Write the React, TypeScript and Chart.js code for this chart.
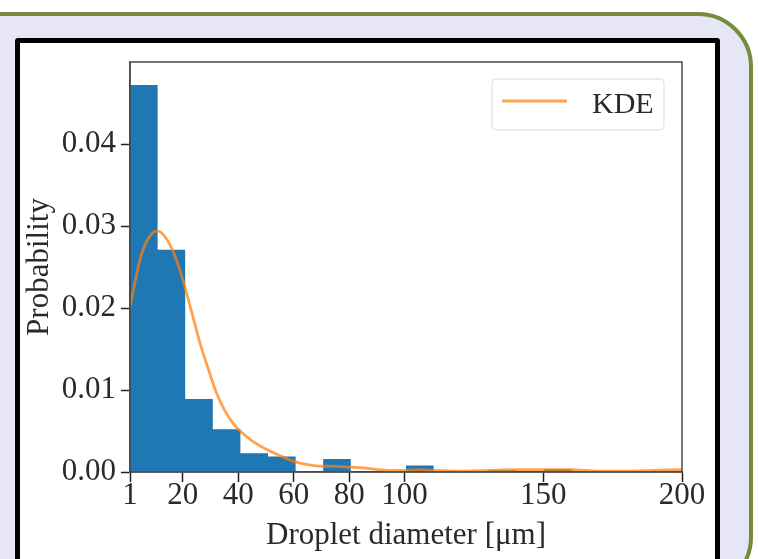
import React, { useEffect, useRef } from 'react';
import { Chart, registerables } from 'chart.js';

Chart.register(...registerables);

// Histogram bin edges (µm) and heights (probability density)
const binEdges = [1, 10.95, 20.9, 30.85, 40.8, 50.75, 60.7, 70.65, 80.6, 90.55, 100.5, 110.45, 120.4, 130.35, 140.3, 150.25, 160.2, 170.15, 180.1, 190.05, 200];
const binHeights = [0.0472, 0.0271, 0.0089, 0.0052, 0.0023, 0.0019, 0, 0.0016, 0, 0.0001, 0.0008, 0, 0, 0.0002, 0, 0.00035, 0, 0, 0, 0];

// KDE curve samples
const kdeX = [1, 3, 5, 8, 11, 14, 17, 20, 23, 26, 29, 32, 35, 38, 41, 45, 50, 55, 60, 65, 70, 75, 80, 85, 90, 95, 100, 105, 110, 120, 130, 140, 150, 160, 170, 180, 190, 200];
const kdeY = [0.0201, 0.0235, 0.0264, 0.0287, 0.0294, 0.0285, 0.0265, 0.0235, 0.0198, 0.0160, 0.0128, 0.0098, 0.0076, 0.0060, 0.0049, 0.0038, 0.0028, 0.0020, 0.0013, 0.0009, 0.0007, 0.0007, 0.0006, 0.0005, 0.0003, 0.0002, 0.0002, 0.0003, 0.0002, 0.0001, 0.0002, 0.0003, 0.0003, 0.0003, 0.0001, 0.0001, 0.0002, 0.0003];

const xTickValues = [1, 20, 40, 60, 80, 100, 150, 200];
const yTickValues = [0, 0.01, 0.02, 0.03, 0.04];
const xRange = [1, 200];
const yRange = [0, 0.05];
const xTitle = 'Droplet diameter [μm]';
const yTitle = 'Probability';
const kdeLabel = 'KDE';

const FONT = "'Liberation Serif', 'Times New Roman', serif";
const FS = 31;
const TEXT = '#2a2a2a';
const BAR = '#1f77b4';
const KDE = 'rgba(255,127,14,0.72)';

const framePlugin = {
  id: 'frame',
  afterDatasetsDraw(chart: any) {
    const { ctx, chartArea: a } = chart;
    ctx.save();
    ctx.strokeStyle = '#4a4a4a';
    ctx.lineWidth = 1.5;
    ctx.strokeRect(a.left, a.top, a.right - a.left, a.bottom - a.top);
    ctx.restore();
  },
};

const legendPlugin = {
  id: 'boxLegend',
  afterDraw(chart: any) {
    const { ctx, chartArea: a } = chart;
    const ds = chart.data.datasets[0];
    const w = 172;
    const h = 51;
    const x0 = a.right - 18 - w;
    const y0 = a.top + 17;
    ctx.save();
    ctx.beginPath();
    ctx.roundRect(x0, y0, w, h, 4);
    ctx.fillStyle = 'rgba(255,255,255,0.8)';
    ctx.fill();
    ctx.strokeStyle = '#dcdcdc';
    ctx.lineWidth = 1;
    ctx.stroke();
    ctx.beginPath();
    ctx.moveTo(x0 + 10, y0 + 22);
    ctx.lineTo(x0 + 75, y0 + 22);
    ctx.strokeStyle = ds.borderColor;
    ctx.lineWidth = ds.borderWidth;
    ctx.stroke();
    ctx.fillStyle = TEXT;
    ctx.font = `30px ${FONT}`;
    ctx.textBaseline = 'alphabetic';
    ctx.textAlign = 'left';
    ctx.fillText(ds.label, x0 + 100, y0 + 34);
    ctx.restore();
  },
};

export default function App() {
  const ref = useRef<HTMLCanvasElement | null>(null);

  useEffect(() => {
    if (!ref.current) return;
    const histPoints = binHeights.map((hgt, i) => ({ x: binEdges[i], y: hgt }));
    histPoints.push({ x: binEdges[binEdges.length - 1], y: 0 });
    const kdePoints = kdeX.map((x, i) => ({ x, y: kdeY[i] }));

    const chart = new Chart(ref.current, {
      type: 'line',
      data: {
        datasets: [
          {
            label: kdeLabel,
            data: kdePoints,
            borderColor: KDE,
            borderWidth: 2.8,
            pointRadius: 0,
            fill: false,
            cubicInterpolationMode: 'monotone',
          },
          {
            label: 'hist',
            data: histPoints,
            stepped: 'before',
            fill: 'origin',
            backgroundColor: BAR,
            borderColor: 'rgba(0,0,0,0)',
            borderWidth: 0,
            pointRadius: 0,
          },
        ],
      },
      options: {
        responsive: false,
        animation: false,
        events: [],
        layout: { padding: { left: 20, top: 62, right: 76, bottom: 0 } },
        plugins: {
          legend: { display: false },
          tooltip: { enabled: false },
        },
        scales: {
          x: {
            type: 'linear',
            min: xRange[0],
            max: xRange[1],
            afterBuildTicks: (s: any) => {
              s.ticks = xTickValues.map((v) => ({ value: v }));
            },
            afterFit: (s: any) => {
              s.height = 87;
            },
            ticks: {
              autoSkip: false,
              maxRotation: 0,
              padding: -2,
              color: TEXT,
              font: { family: FONT, size: FS, lineHeight: 1 },
              callback: (v: any) => String(v),
            },
            grid: {
              drawOnChartArea: false,
              drawTicks: true,
              tickLength: 10,
              tickColor: '#222',
              tickWidth: 1.5,
            },
            border: { display: true, color: '#4a4a4a', width: 1.5 },
            title: {
              display: true,
              text: xTitle,
              color: TEXT,
              font: { family: FONT, size: FS, lineHeight: 1 },
              padding: { top: 0, bottom: 8 },
            },
          },
          y: {
            type: 'linear',
            min: yRange[0],
            max: yRange[1],
            afterBuildTicks: (s: any) => {
              s.ticks = yTickValues.map((v) => ({ value: v }));
            },
            afterFit: (s: any) => {
              s.width = 110;
            },
            ticks: {
              autoSkip: false,
              padding: 5,
              color: TEXT,
              font: { family: FONT, size: FS, lineHeight: 1 },
              callback: (v: any) => Number(v).toFixed(2),
            },
            grid: {
              drawOnChartArea: false,
              drawTicks: true,
              tickLength: 9,
              tickColor: '#222',
              tickWidth: 1.5,
            },
            border: { display: true, color: '#4a4a4a', width: 1.5 },
            title: {
              display: true,
              text: yTitle,
              color: TEXT,
              font: { family: FONT, size: FS, lineHeight: 1 },
              padding: { top: 4, bottom: 0 },
            },
          },
        },
      },
      plugins: [framePlugin, legendPlugin],
    } as any);
    return () => chart.destroy();
  }, []);

  return (
    <div style={{ position: 'fixed', left: 0, top: 0, width: 758, height: 559, overflow: 'hidden', background: '#ffffff' }}>
      <div
        style={{
          position: 'absolute',
          left: -60,
          top: 12,
          width: 813,
          height: 580,
          boxSizing: 'border-box',
          border: '4px solid #778b3c',
          borderRadius: 55,
          background: '#e6e6f7',
        }}
      />
      <div
        style={{
          position: 'absolute',
          left: 15,
          top: 38,
          width: 705,
          height: 600,
          boxSizing: 'border-box',
          border: '5px solid #000000',
          borderRadius: 3,
          background: '#ffffff',
        }}
      />
      <canvas ref={ref} width={758} height={559} style={{ position: 'absolute', left: 0, top: 0, width: 758, height: 559 }} />
    </div>
  );
}
